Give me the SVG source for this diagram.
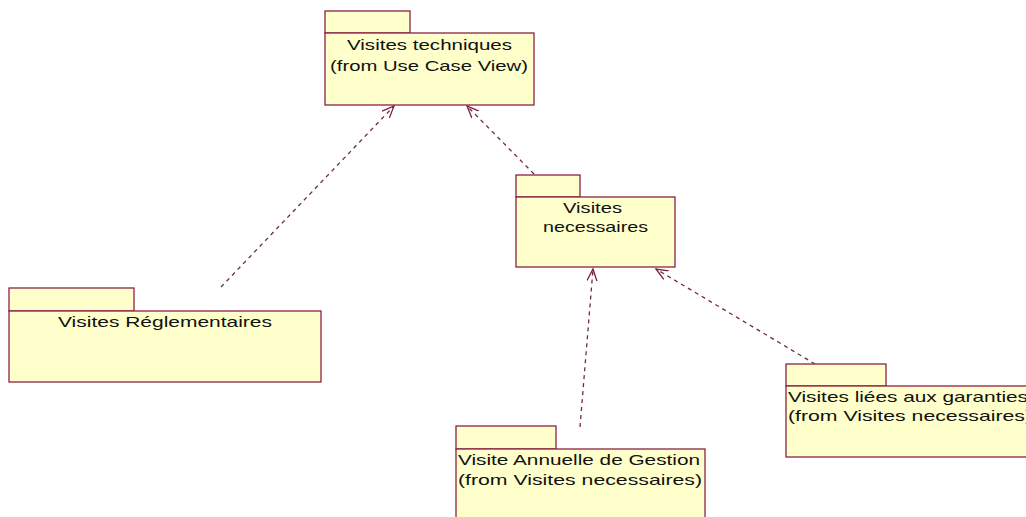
<svg xmlns="http://www.w3.org/2000/svg" width="1026" height="517" viewBox="0 0 1026 517">
<style>
.pk{fill:#ffffcc;stroke:#8b2246;stroke-width:1.3}
.t{font-family:"Liberation Sans",Arial,sans-serif;font-size:14.5px;fill:#111}
.dep{fill:none;stroke:#6e2a45;stroke-width:1.3;stroke-dasharray:4 4}
</style>
<defs>
<marker id="open" markerUnits="userSpaceOnUse" markerWidth="14" markerHeight="14" refX="12" refY="5" orient="auto" viewBox="0 0 14 10">
<path d="M0,0 L12,5 L0,10" fill="none" stroke="#7a1f3d" stroke-width="1.3"/>
</marker>
</defs>
<rect width="1026" height="517" fill="#ffffff"/>
<g id="connectors">
<line class="dep" x1="221" y1="287" x2="394" y2="106" marker-end="url(#open)"/>
<line class="dep" x1="534" y1="174" x2="467" y2="106" marker-end="url(#open)"/>
<line class="dep" x1="580" y1="427" x2="593" y2="269" marker-end="url(#open)"/>
<line class="dep" x1="815" y1="364" x2="656" y2="269" marker-end="url(#open)"/>
</g>
<g id="visites-techniques">
<rect class="pk" x="325" y="11" width="85" height="22"/>
<rect class="pk" x="325" y="33" width="209" height="72"/>
<text class="t" x="347" y="50" textLength="165" lengthAdjust="spacingAndGlyphs">Visites techniques</text>
<text class="t" x="330" y="71" textLength="198" lengthAdjust="spacingAndGlyphs">(from Use Case View)</text>
</g>
<g id="visites-necessaires">
<rect class="pk" x="516" y="175" width="64" height="22"/>
<rect class="pk" x="516" y="197" width="159" height="70"/>
<text class="t" x="563" y="213" textLength="59" lengthAdjust="spacingAndGlyphs">Visites</text>
<text class="t" x="543" y="232" textLength="105" lengthAdjust="spacingAndGlyphs">necessaires</text>
</g>
<g id="visites-reglementaires">
<rect class="pk" x="9" y="288" width="125" height="23"/>
<rect class="pk" x="9" y="311" width="312" height="71"/>
<text class="t" x="58" y="327" textLength="214" lengthAdjust="spacingAndGlyphs">Visites Réglementaires</text>
</g>
<g id="visite-annuelle">
<rect class="pk" x="456" y="426" width="100" height="23"/>
<rect class="pk" x="456" y="449" width="249" height="80"/>
<text class="t" x="458" y="465" textLength="242" lengthAdjust="spacingAndGlyphs">Visite Annuelle de Gestion</text>
<text class="t" x="458" y="485" textLength="244" lengthAdjust="spacingAndGlyphs">(from Visites necessaires)</text>
</g>
<g id="visites-liees">
<rect class="pk" x="786" y="364" width="100" height="22"/>
<rect class="pk" x="786" y="386" width="250" height="71"/>
<text class="t" x="788" y="402" textLength="240" lengthAdjust="spacingAndGlyphs">Visites liées aux garanties</text>
<text class="t" x="788" y="421" textLength="244" lengthAdjust="spacingAndGlyphs">(from Visites necessaires)</text>
</g>
</svg>
